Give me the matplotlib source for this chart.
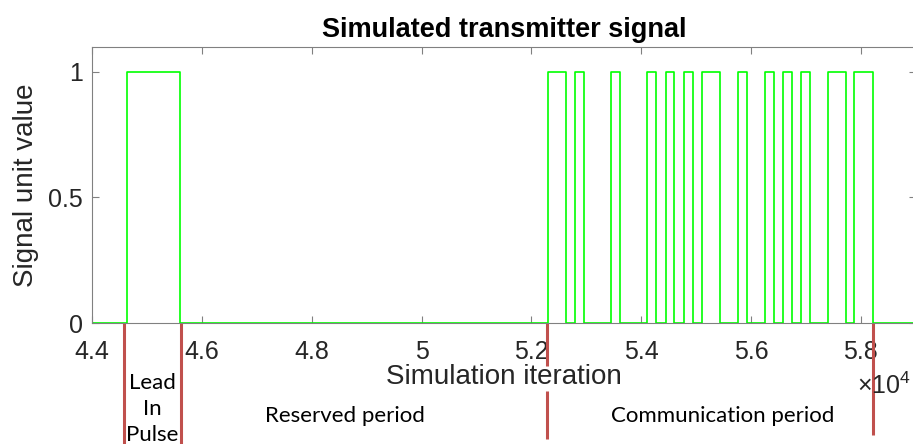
"""Simulated transmitter signal with period annotations below the axis."""

import matplotlib

matplotlib.use("Agg")
import matplotlib.pyplot as plt
from matplotlib.ticker import FuncFormatter
from matplotlib.transforms import blended_transform_factory

# transition iterations (signal level after each edge alternates 1/0)
lead_edges = [44630, 45600]
comm_edges = [52310, 52630, 52800, 52960, 53450, 53620, 54110, 54275,
              54445, 54605, 54770, 54940, 55105, 55430, 55760, 55920,
              56250, 56410, 56575, 56740, 56910, 57070, 57395, 57725,
              57885, 58220]
# period boundaries drawn as red markers under the axis
boundaries = [44585, 45615, 52285, 58230]
period_labels = ["Lead\nIn\nPulse", "Reserved period", "Communication period"]
period_centers = [45100, 48600, 55480]

x_ticks = [44000, 46000, 48000, 50000, 52000, 54000, 56000, 58000]
y_ticks = [0, 0.5, 1]

GREEN = "#00ff00"
RED = "#c0504d"
AX_GREY = "#808080"
TEXT = "#262626"


def step_series(edges, start, stop):
    xs = [start] + edges + [stop]
    ys = [0]
    level = 0
    for _ in edges:
        level = 1 - level
        ys.append(level)
    ys.append(level)
    return xs, ys


def main():
    plt.rcParams["font.family"] = ["Liberation Sans", "DejaVu Sans"]
    plt.rcParams["mathtext.fontset"] = "custom"
    plt.rcParams["mathtext.rm"] = "Liberation Sans"
    fig = plt.figure(figsize=(9.13, 4.44), dpi=100)
    ax = fig.add_axes([92.3 / 913, 1 - 323 / 444, (915.7 - 92.3) / 913, (323 - 46.7) / 444])

    xs, ys = step_series(lead_edges + comm_edges, 44000, 59000)
    ax.step(xs, ys, where="post", color=GREEN, linewidth=1.2)

    ax.set_xlim(44000, 59000)
    ax.set_ylim(0, 1.1)
    ax.set_xticks(x_ticks)
    ax.set_yticks(y_ticks)
    ax.xaxis.set_major_formatter(FuncFormatter(lambda v, _: f"{v / 1e4:g}"))
    ax.yaxis.set_major_formatter(FuncFormatter(lambda v, _: f"{v:g}"))
    ax.tick_params(direction="in", length=5, width=0.8, colors=AX_GREY,
                   labelcolor=TEXT, labelsize=18, top=True, right=True)
    ax.tick_params(axis="x", pad=12.5)
    ax.tick_params(axis="y", pad=7)
    for spine in ax.spines.values():
        spine.set_color(AX_GREY)
        spine.set_linewidth(0.8)

    ax.set_title("Simulated transmitter signal", fontsize=19.5, fontweight="bold", pad=7)
    ax.set_xlabel("Simulation iteration", fontsize=20, color=TEXT, labelpad=0)
    ax.set_ylabel("Signal unit value", fontsize=20, color=TEXT, labelpad=6)
    fig.text(857 / 913, 1 - 386 / 444, r"$\times\mathregular{10^{4}}$", fontsize=18,
             color=TEXT, va="center", ha="left")

    # red boundary markers below the axis, in data x / figure y
    trans = blended_transform_factory(ax.transData, fig.transFigure)
    for i, b in enumerate(boundaries):
        if i == 2:
            segs = [(323, 366), (391, 439)]
        elif i == 3:
            segs = [(323, 435)]
        else:
            segs = [(323, 444)]
        for top, bot in segs:
            ax.plot([b, b], [1 - top / 444, 1 - bot / 444], color=RED,
                    linewidth=2.2, transform=trans, clip_on=False,
                    solid_capstyle="butt")

    ann_font = ["Lato", "DejaVu Sans"]
    ys_ann = [1 - 409 / 444, 1 - 416 / 444, 1 - 416 / 444]
    for label, cx, yy in zip(period_labels, period_centers, ys_ann):
        ax.text(cx, yy, label, transform=trans, ha="center", va="center",
                fontsize=16, family=ann_font, linespacing=1.35, color="black")

    fig.savefig("out.png", dpi=100)
    plt.close(fig)


if __name__ == "__main__":
    main()
